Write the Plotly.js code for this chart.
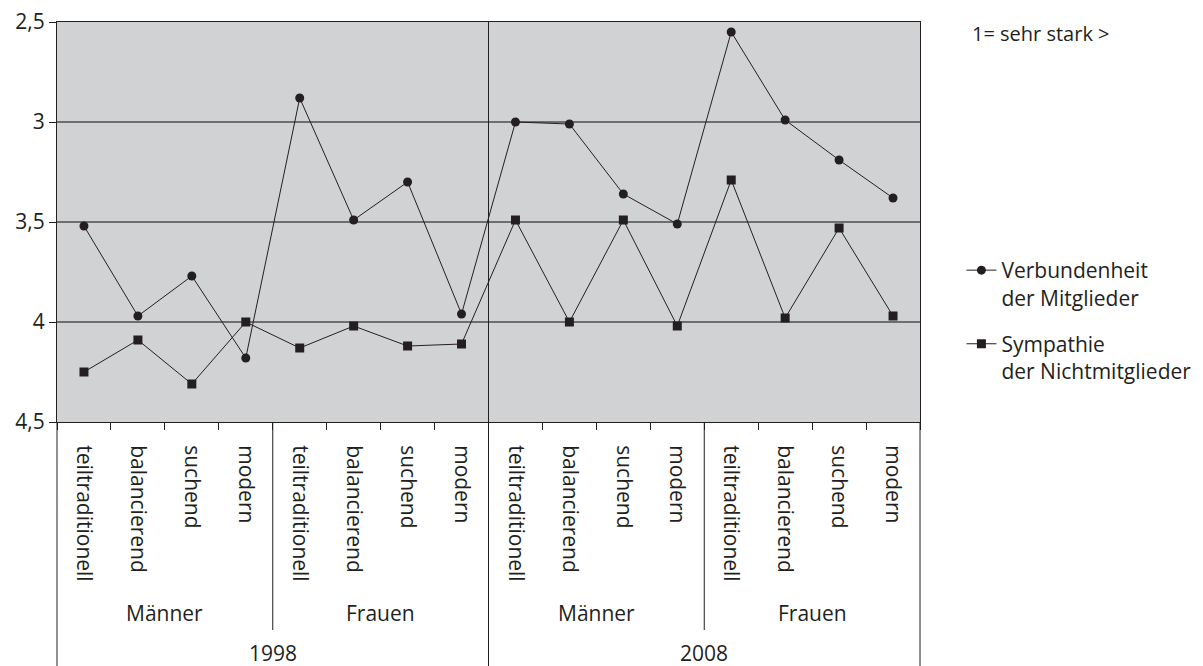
<!DOCTYPE html>
<html>
<head>
<meta charset="utf-8">
<script src="https://cdn.plot.ly/plotly-3.0.1.min.js"></script>
<style>html,body{margin:0;padding:0;background:#fff;}#chart{width:1203px;height:666px;}</style>
</head>
<body>
<div id="chart"></div>
<script>
// categories (16 positions: year x gender x type)
const types = ["teiltraditionell","balancierend","suchend","modern"];
const genders = ["Männer","Frauen"];
const years = ["1998","2008"];

// Verbundenheit der Mitglieder (1 = sehr stark)
const verbundenheit = [3.52, 3.97, 3.77, 4.18,  2.88, 3.49, 3.30, 3.96,
                       3.00, 3.01, 3.36, 3.51,  2.55, 2.99, 3.19, 3.38];
// Sympathie der Nichtmitglieder
const sympathie     = [4.25, 4.09, 4.31, 4.00,  4.13, 4.02, 4.12, 4.11,
                       3.49, 4.00, 3.49, 4.02,  3.29, 3.98, 3.53, 3.97];

const seriesNames = ["Verbundenheit<br>der Mitglieder", "Sympathie<br>der Nichtmitglieder"];
const noteText = "1= sehr stark >";

const tickLabels = [];
years.forEach(()=>genders.forEach(()=>types.forEach(t=>tickLabels.push(t))));
const xIdx = tickLabels.map((_, i) => i);
const boundaries = [];
for (let i = 0; i <= tickLabels.length; i++) boundaries.push(i - 0.5);

const FONT = "Open Sans, Noto Sans, sans-serif";
const INK = "#231f20";
const FS = 21;

const traces = [
  {x: xIdx, y: verbundenheit, name: seriesNames[0], type: "scatter", mode: "lines+markers",
   legendgroup: "a",
   line: {color: INK, width: 1}, marker: {symbol: "circle", size: 9, color: INK}},
  {x: xIdx, y: sympathie, name: seriesNames[1], type: "scatter", mode: "lines+markers",
   legendgroup: "b",
   line: {color: INK, width: 1}, marker: {symbol: "square", size: 9, color: INK}}
];

const shapes = [];
const annotations = [];
const nT = types.length, nG = genders.length;
// year dividers
shapes.push({type: "line", xref: "x domain", yref: "paper", x0: 0, x1: 0, y0: 0, y1: -0.61, line: {color: INK, width: 1}});
shapes.push({type: "line", xref: "x domain", yref: "paper", x0: 1, x1: 1, y0: 0, y1: -0.61, line: {color: INK, width: 1}});
years.forEach((yr, yi) => {
  const start = yi * nT * nG;
  if (yi > 0) shapes.push({type: "line", xref: "x", yref: "paper", x0: start - 0.5, x1: start - 0.5, y0: 1, y1: -0.61, line: {color: INK, width: 1}});
  annotations.push({xref: "x", yref: "paper", x: start + (nT * nG - 1) / 2, y: -0.578, text: yr, showarrow: false,
    font: {family: FONT, size: FS, color: INK}, xanchor: "center", yanchor: "middle"});
  genders.forEach((g, gi) => {
    const gs = start + gi * nT;
    if (gi > 0) shapes.push({type: "line", xref: "x", yref: "paper", x0: gs - 0.5, x1: gs - 0.5, y0: 0, y1: -0.52, line: {color: INK, width: 1}});
    annotations.push({xref: "x", yref: "paper", x: gs + (nT - 1) / 2, y: -0.4775, text: g, showarrow: false,
      font: {family: FONT, size: FS, color: INK}, xanchor: "center", yanchor: "middle"});
  });
});
annotations.push({xref: "paper", yref: "paper", x: 1.058, y: 0.972, text: noteText, showarrow: false,
  font: {family: FONT, size: 20, color: INK}, xanchor: "left", yanchor: "middle"});

const layout = {
  width: 1203, height: 666,
  margin: {l: 57, r: 283, t: 22, b: 244, autoexpand: false},
  paper_bgcolor: "#ffffff",
  plot_bgcolor: "#d1d2d4",
  separators: ",.",
  font: {family: FONT, size: FS, color: INK},
  showlegend: true,
  legend: {x: 1.048, y: 0.43, xanchor: "left", yanchor: "top", valign: "top",
    traceorder: "grouped", tracegroupgap: 16, itemwidth: 30,
    font: {family: FONT, size: FS, color: INK}, bgcolor: "rgba(0,0,0,0)"},
  xaxis: {
    range: [-0.5, tickLabels.length - 0.5], tickmode: "array", tickvals: xIdx, ticktext: tickLabels,
    tickangle: 90, ticks: "", showgrid: false, zeroline: false, automargin: false,
    showline: true, linecolor: INK, linewidth: 1, mirror: true,
    tickfont: {family: FONT, size: FS, color: INK},
    ticklabelstandoff: 18,
    minor: {tickmode: "array", tickvals: boundaries, ticks: "outside", ticklen: 7, tickcolor: INK, tickwidth: 1, showgrid: false}
  },
  yaxis: {
    range: [4.5, 2.5], tickvals: [2.5, 3, 3.5, 4, 4.5], ticks: "outside", ticklen: 7, tickcolor: INK,
    showgrid: true, gridcolor: "#6d6e70", gridwidth: 1.3, zeroline: false, automargin: false,
    showline: true, linecolor: INK, linewidth: 1, mirror: true,
    tickfont: {family: FONT, size: FS, color: INK}
  },
  shapes: shapes,
  annotations: annotations
};

Plotly.newPlot("chart", traces, layout, {displayModeBar: false, staticPlot: true});
</script>
</body>
</html>
